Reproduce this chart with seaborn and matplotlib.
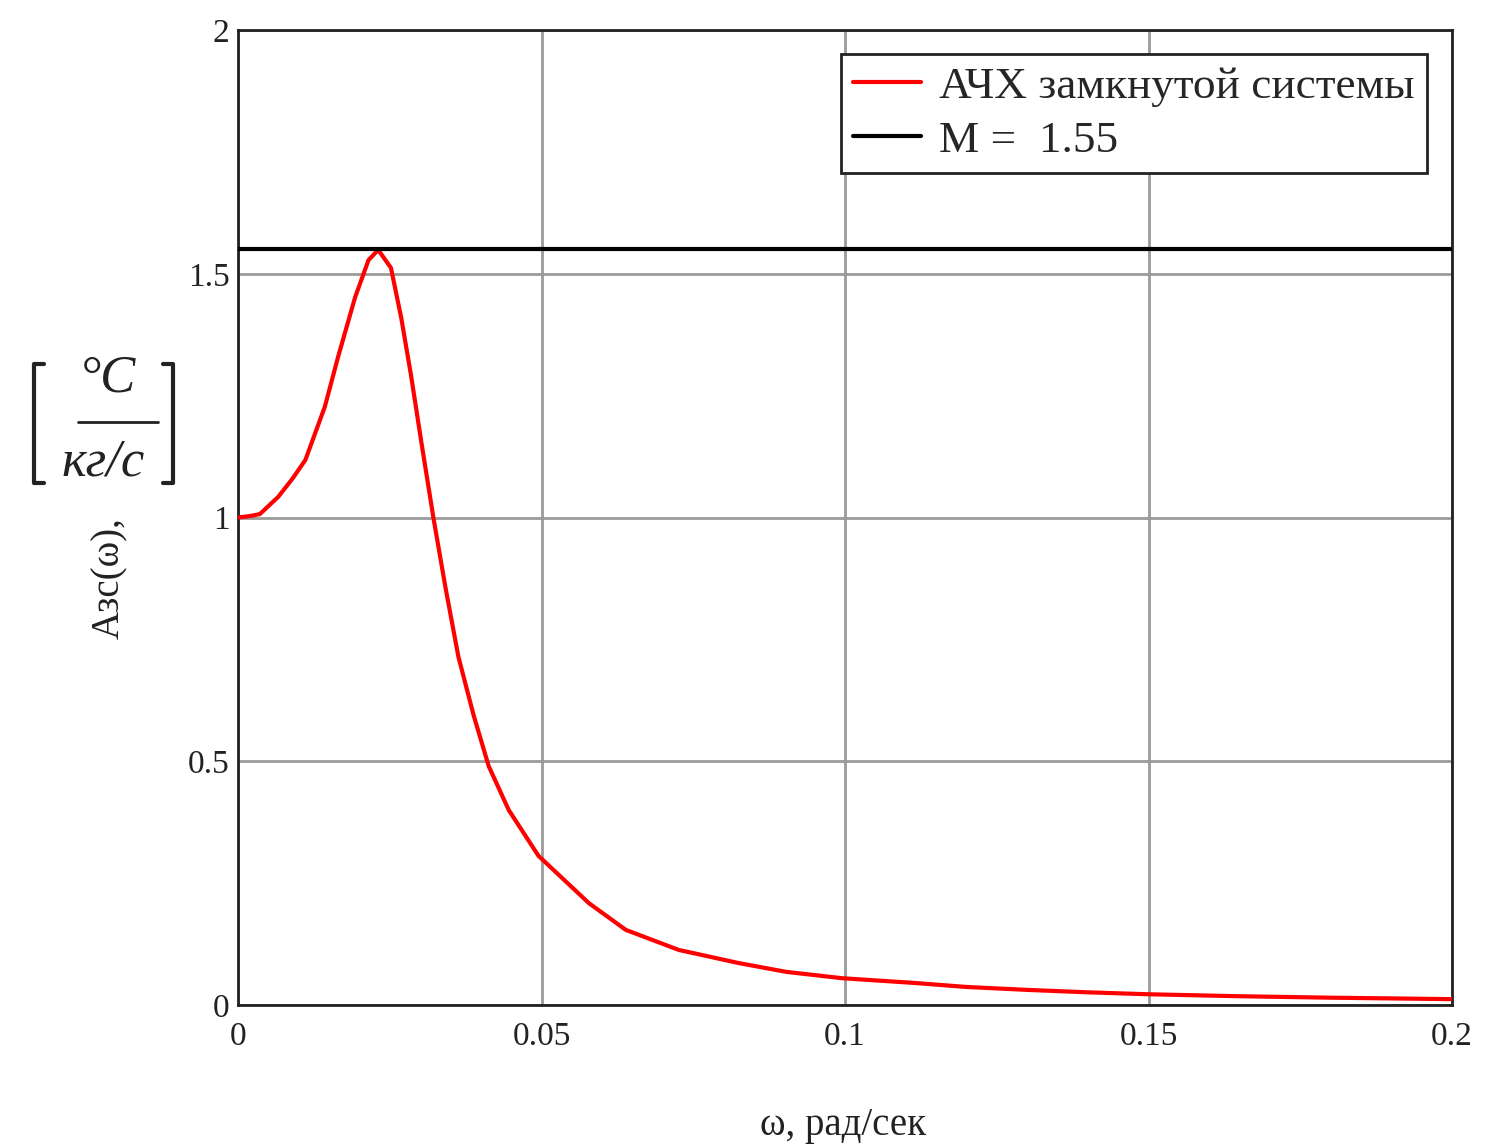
import matplotlib
matplotlib.use("Agg")
import matplotlib.pyplot as plt
from matplotlib.lines import Line2D
import seaborn as sns
import pandas as pd

# ---- data ----
omega = [0, 0.002, 0.0036, 0.0066, 0.009, 0.0111, 0.0143, 0.0165, 0.0193, 0.0215,
         0.0231, 0.0252, 0.0269, 0.0285, 0.0302, 0.0322, 0.0342, 0.0363,
         0.0388, 0.0413, 0.0446, 0.0495, 0.0578, 0.0639, 0.0726, 0.0825, 0.0903,
         0.0995, 0.1117, 0.12, 0.13, 0.14, 0.15, 0.165, 0.18, 0.2]
amplitude = [1.0, 1.003, 1.007, 1.042, 1.08, 1.118, 1.227, 1.33, 1.452, 1.528,
             1.549, 1.512, 1.409, 1.292, 1.155, 0.999, 0.855, 0.715,
             0.595, 0.49, 0.40, 0.306, 0.209, 0.154, 0.113, 0.086, 0.068,
             0.055, 0.045, 0.037, 0.031, 0.026, 0.022, 0.018, 0.015, 0.012]
M_value = 1.55
x_ticks = [0, 0.05, 0.1, 0.15, 0.2]
x_ticklabels = ["0", "0.05", "0.1", "0.15", "0.2"]
y_ticks = [0, 0.5, 1, 1.5, 2]
y_ticklabels = ["0", "0.5", "1", "1.5", "2"]
label_curve = "АЧХ замкнутой системы"
label_M = "M =  1.55"
xlabel = "ω, рад/сек"
ylabel = "Азс(ω),"

sns.set_style("white")
plt.rcParams["font.family"] = ["Liberation Serif", "DejaVu Serif"]

fig = plt.figure(figsize=(14.86, 11.48), dpi=100)
ax = fig.add_axes([238 / 1486, 1 - 1005 / 1148, (1452 - 238) / 1486, (1005 - 30) / 1148])

df = pd.DataFrame({"omega": omega, "A": amplitude})
sns.lineplot(data=df, x="omega", y="A", ax=ax, color="#ff0000", linewidth=3.0,
             estimator=None, sort=False, label=label_curve, zorder=3)
ax.axhline(M_value, color="black", linewidth=3.0, label=label_M, zorder=3)

ax.set_xlim(0, 0.2)
ax.set_ylim(0, 2)
ax.set_xticks(x_ticks)
ax.set_xticklabels(x_ticklabels)
ax.set_yticks(y_ticks)
ax.set_yticklabels(y_ticklabels)
ax.tick_params(axis="both", length=0, labelsize=24, colors="#222222")
ax.tick_params(axis="x", pad=12)
ax.tick_params(axis="y", pad=6)
ax.grid(True, color="#9a9a9a", linewidth=2.0)
for s in ax.spines.values():
    s.set_color("#222222")
    s.set_linewidth(2.0)
ax.set_xlabel("")
ax.set_ylabel("")

leg = ax.legend(loc="upper right", bbox_to_anchor=(0.979, 0.975), borderaxespad=0,
                fontsize=32.6, frameon=True, fancybox=False, handlelength=1.5,
                handletextpad=0.4, labelspacing=0.29, borderpad=0.27)
leg.get_frame().set_edgecolor("#222222")
leg.get_frame().set_linewidth(2.0)
leg.get_frame().set_alpha(1)

# axis labels
fig.text(843 / 1486, 1 - 1125 / 1148, xlabel, ha="center", va="center", fontsize=28,
         color="#222222")
fig.text(110 / 1486, 1 - 578 / 1148, ylabel, ha="center", va="center", fontsize=28,
         rotation=90, color="#222222")

# unit bracket [°C / кг/с]
fig.text(108 / 1486, 1 - 378 / 1148, "°C", ha="center", va="center", fontsize=38,
         style="italic", color="#222222")
fig.text(103 / 1486, 1 - 462 / 1148, "кг/с", ha="center", va="center", fontsize=38,
         style="italic", color="#222222")
fig.add_artist(Line2D([78 / 1486, 158 / 1486], [1 - 422 / 1148, 1 - 422 / 1148],
                      color="#222222", linewidth=2, transform=fig.transFigure))
yt, yb = 1 - 364 / 1148, 1 - 483 / 1148
fig.add_artist(Line2D([44 / 1486, 34 / 1486, 34 / 1486, 44 / 1486], [yt, yt, yb, yb],
                      color="#222222", linewidth=3, transform=fig.transFigure))
fig.add_artist(Line2D([163 / 1486, 173 / 1486, 173 / 1486, 163 / 1486], [yt, yt, yb, yb],
                      color="#222222", linewidth=3, transform=fig.transFigure))

fig.savefig("out.png", dpi=100, facecolor="white")
